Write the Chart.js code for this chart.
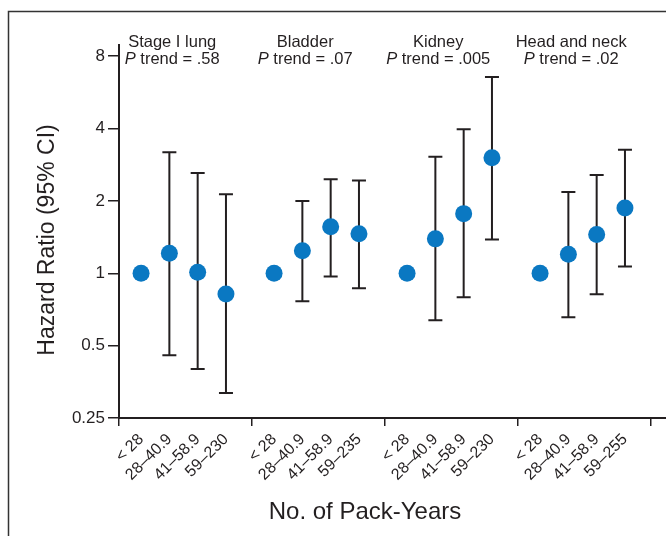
<!DOCTYPE html>
<html>
<head>
    <title>Hazard Ratio by Pack-Years</title>
    <script src="https://cdn.jsdelivr.net/npm/chart.js"></script>
    <style>
        body { margin: 0; background: #fff; }
        #wrap { width: 666px; height: 536px; }
    </style>
</head>
<body>
    <div id="wrap"><canvas id="hrChart" width="666" height="536"></canvas></div>

    <script>
        // Data
        const groups = ["Stage I lung", "Bladder", "Kidney", "Head and neck"];
        const pTrend = [".58", ".07", ".005", ".02"];
        const tickLabels = [
            "< 28", "28–40.9", "41–58.9", "59–230",
            "< 28", "28–40.9", "41–58.9", "59–235",
            "< 28", "28–40.9", "41–58.9", "59–230",
            "< 28", "28–40.9", "41–58.9", "59–255"
        ];
        const hazard = [1, 1.21, 1.01, 0.82, 1, 1.24, 1.56, 1.46, 1, 1.39, 1.77, 3.02, 1, 1.20, 1.45, 1.87];
        const ciLow = [null, 0.456, 0.40, 0.318, null, 0.765, 0.97, 0.866, null, 0.638, 0.795, 1.38, null, 0.656, 0.818, 1.066];
        const ciHigh = [null, 3.19, 2.61, 2.13, null, 2.0, 2.46, 2.43, null, 3.05, 3.97, 6.55, null, 2.18, 2.56, 3.26];
        const yTicks = [0.25, 0.5, 1, 2, 4, 8];

        // layout in x units: each group is 4.7 wide, points 1 apart
        const groupWidth = 4.7;
        const firstOffset = 0.78;
        const xPos = tickLabels.map((_, i) => Math.floor(i / 4) * groupWidth + firstOffset + (i % 4));
        const groupTicks = [0, 1, 2, 3, 4].map(g => g * groupWidth);

        const FONT = "'Liberation Sans', Arial, sans-serif";
        const INK = "#231f20";

        // frame, error bars, and free text
        const decorations = {
            id: "decorations",
            beforeDraw(chart) {
                const ctx = chart.ctx;
                ctx.save();
                ctx.strokeStyle = "#333";
                ctx.lineWidth = 1.5;
                ctx.beginPath();
                ctx.moveTo(8.5, 536);
                ctx.lineTo(8.5, 11.5);
                ctx.lineTo(666, 11.5);
                ctx.stroke();
                ctx.restore();
            },
            beforeDatasetsDraw(chart) {
                const ctx = chart.ctx;
                const xs = chart.scales.x;
                const ys = chart.scales.y;
                ctx.save();
                ctx.strokeStyle = INK;
                ctx.lineWidth = 2;
                hazard.forEach((v, i) => {
                    if (ciLow[i] == null) return;
                    const px = xs.getPixelForValue(xPos[i]);
                    const yl = ys.getPixelForValue(ciLow[i]);
                    const yh = ys.getPixelForValue(ciHigh[i]);
                    ctx.beginPath();
                    ctx.moveTo(px, yl);
                    ctx.lineTo(px, yh);
                    ctx.moveTo(px - 7, yl);
                    ctx.lineTo(px + 7, yl);
                    ctx.moveTo(px - 7, yh);
                    ctx.lineTo(px + 7, yh);
                    ctx.stroke();
                });
                ctx.restore();
            },
            afterDraw(chart) {
                const ctx = chart.ctx;
                const xs = chart.scales.x;
                ctx.save();
                ctx.fillStyle = INK;
                ctx.textBaseline = "alphabetic";
                const hFont = "16.5px " + FONT;
                const hItal = "italic 16.5px " + FONT;

                // group headings
                groups.forEach((name, g) => {
                    const cx = xs.getPixelForValue(g * groupWidth + 1.88);
                    ctx.font = hFont;
                    ctx.textAlign = "center";
                    ctx.fillText(name, cx, 47);

                    const rest = " trend = " + pTrend[g];
                    ctx.font = hItal;
                    const wP = ctx.measureText("P").width;
                    ctx.font = hFont;
                    const wR = ctx.measureText(rest).width;
                    const x0 = cx - (wP + wR) / 2;
                    ctx.textAlign = "left";
                    ctx.font = hItal;
                    ctx.fillText("P", x0, 64);
                    ctx.font = hFont;
                    ctx.fillText(rest, x0 + wP, 64);
                });

                // axis titles
                ctx.font = "24px " + FONT;
                ctx.textAlign = "center";
                ctx.fillText("No. of Pack-Years", 365, 519);

                ctx.translate(54, 240);
                ctx.rotate(-Math.PI / 2);
                ctx.font = "23px " + FONT;
                ctx.fillText("Hazard Ratio (95% CI)", 0, 0);
                ctx.restore();
            }
        };

        const ctx = document.getElementById("hrChart").getContext("2d");
        new Chart(ctx, {
            type: "scatter",
            data: {
                datasets: [{
                    data: hazard.map((v, i) => ({ x: xPos[i], y: v })),
                    backgroundColor: "#0a78c2",
                    borderWidth: 0,
                    pointRadius: 8.5,
                    pointHoverRadius: 8.5,
                    clip: false
                }]
            },
            options: {
                responsive: false,
                animation: false,
                events: [],
                layout: { autoPadding: false, padding: { top: 45, left: 0, right: 0, bottom: 0 } },
                plugins: { legend: { display: false }, tooltip: { enabled: false } },
                scales: {
                    y: {
                        type: "logarithmic",
                        position: "left",
                        min: 0.25,
                        max: 8.9,
                        afterBuildTicks: s => { s.ticks = yTicks.map(v => ({ value: v })); },
                        afterFit: s => { s.width = 119; },
                        ticks: {
                            color: INK,
                            padding: 3,
                            font: { family: FONT, size: 17 },
                            callback: v => String(v)
                        },
                        grid: { display: true, drawOnChartArea: false, drawTicks: true, tickLength: 11, color: INK, lineWidth: 1.5 },
                        border: { display: true, color: INK, width: 2 }
                    },
                    x: {
                        type: "linear",
                        position: "bottom",
                        weight: 0,
                        min: 0,
                        max: 19.33,
                        afterBuildTicks: s => { s.ticks = groupTicks.map(v => ({ value: v })); },
                        afterFit: s => { s.height = 10; s.paddingLeft = 0; s.paddingRight = 0; },
                        ticks: { display: false },
                        grid: { display: true, drawOnChartArea: false, drawTicks: true, tickLength: 8, color: INK, lineWidth: 1.5 },
                        border: { display: true, color: INK, width: 2 }
                    },
                    xl: {
                        type: "linear",
                        position: "bottom",
                        weight: 1,
                        min: 0,
                        max: 19.33,
                        afterBuildTicks: s => { s.ticks = xPos.map(v => ({ value: v })); },
                        afterFit: s => { s.height = 108; s.paddingLeft = 0; s.paddingRight = 0; },
                        ticks: {
                            color: INK,
                            autoSkip: false,
                            maxRotation: 45,
                            minRotation: 45,
                            padding: 2,
                            font: { family: FONT, size: 16 },
                            callback: (v, i) => tickLabels[i]
                        },
                        grid: { display: false, drawTicks: false },
                        border: { display: false }
                    }
                }
            },
            plugins: [decorations]
        });
    </script>
</body>
</html>
